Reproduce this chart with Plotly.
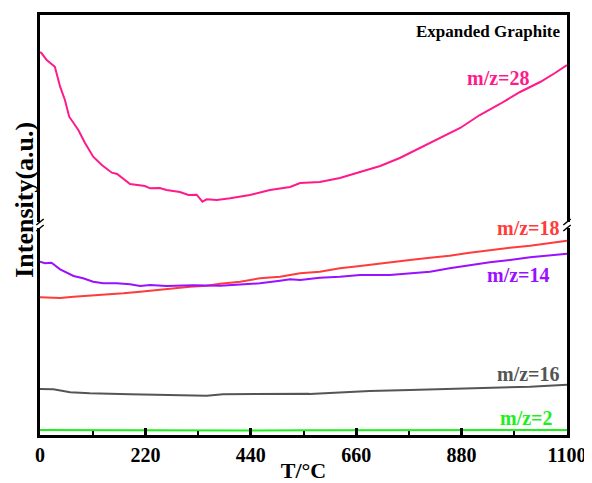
import plotly.graph_objects as go

# ---- data (T in °C, intensity in arbitrary units) ----
T28 = [0, 3.5, 14, 31, 42, 52, 61, 80, 94, 111, 129, 150, 161, 188, 219, 230, 250, 264, 292, 310, 327, 339, 348, 369, 397,
       438, 480, 522, 543, 584, 626, 668, 710, 751, 793, 835, 877, 918, 960, 1002, 1044, 1075, 1100]
I28 = [383, 381.7, 375, 368.3, 348.3, 335, 318.3, 305, 292, 278.3, 270, 262.3, 261, 251, 249, 246.7, 247, 245, 243, 240, 240.3, 233.3, 235.7, 235, 236.7,
       240, 245, 248, 252, 253, 257, 263, 269, 277, 287, 297, 307, 320, 331, 343, 353, 362, 370]

T18 = [0, 42, 70, 104, 139, 174, 209, 244, 278, 313, 348, 376, 418, 459, 501, 543, 584, 626, 668, 710, 730, 772, 814, 855, 897, 939, 981, 1023, 1100]
I18 = [137.7, 137, 138.3, 139.3, 141, 141.7, 143.3, 145, 146.7, 148.3, 149.3, 151.3, 153.3, 156.7, 158.3, 161.7, 163.3, 166.7, 169, 171.7, 172.7, 175, 177.3, 179.3, 182.3, 185, 187.3, 189.3, 194.3]

T14 = [0, 10.4, 24, 42, 70, 90, 111, 132, 160, 188, 209, 230, 264, 292, 320, 376, 418, 459, 501, 522, 543, 584, 626, 668, 730, 772, 814, 855, 897, 939, 981, 1023, 1100]
I14 = [173.3, 171.7, 172.3, 165.7, 159, 156.7, 153.3, 151.7, 151.7, 150.7, 149, 150, 149, 149.3, 149.7, 149.3, 150.7, 151.7, 154.3, 155.7, 155, 157.3, 158.3, 160, 160, 161.7, 163.3, 166.7, 170, 172.7, 175, 177.7, 181.3]

T16 = [0, 28, 63, 104, 188, 243, 299, 348, 382, 424, 473, 560, 563, 626, 688, 772, 855, 939, 1023, 1100]
I16 = [46, 45.7, 42.7, 41.7, 40.7, 40.3, 40, 39.3, 40.7, 41, 41.3, 41.3, 41, 42.7, 44, 45, 46.3, 47.3, 48.3, 50.3]

T2 = [0, 110, 220, 330, 440, 550, 660, 770, 880, 990, 1100]
I2 = [5, 4.8, 4.6, 4.8, 4.6, 4.8, 4.7, 4.8, 4.6, 4.8, 5]

series = [
    ("m/z=28", T28, I28, "#FF1A8C"),
    ("m/z=18", T18, I18, "#FF3B3B"),
    ("m/z=14", T14, I14, "#9A10FF"),
    ("m/z=16", T16, I16, "#555555"),
    ("m/z=2", T2, I2, "#1EF01E"),
]

# label positions (right end x, y) in data units
label_pos = {
    "m/z=28": (1026, 357),
    "m/z=18": (1089, 207),
    "m/z=14": (1068, 160),
    "m/z=16": (1089, 61),
    "m/z=2": (1075, 17),
}

x_ticks = [0, 220, 440, 660, 880, 1100]
y_break = 210

FONT = "Liberation Serif, Times New Roman, serif"

fig = go.Figure()
for name, xs, ys, col in series:
    fig.add_trace(go.Scatter(x=xs, y=ys, mode="lines", name=name,
                             line=dict(color=col, width=2), showlegend=False))
    lx, ly = label_pos[name]
    fig.add_annotation(x=lx, y=ly, text="<b>%s</b>" % name, showarrow=False,
                       xanchor="right", yanchor="middle",
                       font=dict(family=FONT, size=20, color=col))

fig.add_annotation(x=1091, y=404, text="<b>Expanded Graphite</b>", showarrow=False,
                   xanchor="right", yanchor="middle",
                   font=dict(family=FONT, size=17, color="black"))

# y-axis title (placed as rotated text, slightly above plot centre as in the reference)
fig.add_annotation(xref="paper", yref="paper", x=0, y=0.56, xshift=-15,
                   text="<b>Intensity(a.u.)</b>", textangle=-90, showarrow=False,
                   xanchor="center", yanchor="middle",
                   font=dict(family=FONT, size=26, color="black"))

# axis break marks on left and right spines
for px in (0, 1):
    fig.add_shape(type="rect", xref="paper", yref="y", x0=px - 0.006, x1=px + 0.006,
                  y0=y_break - 3, y1=y_break + 3, fillcolor="white", line=dict(width=0), layer="above")
    for dy in (-3, 3):
        fig.add_shape(type="line", xref="paper", yref="y", x0=px - 0.007, x1=px + 0.007,
                      y0=y_break + dy - 3, y1=y_break + dy + 3,
                      line=dict(color="black", width=1.5), layer="above")

# page body has an 8px margin, so the figure is sized/offset to compensate
fig.update_layout(
    width=584, height=475,
    margin=dict(l=32, r=25, t=7, b=48, autoexpand=False),
    plot_bgcolor="white", paper_bgcolor="white",
    font=dict(family=FONT, color="black"),
)
fig.update_xaxes(
    range=[0, 1100], tickvals=x_ticks, ticktext=["<b>%d</b>" % v for v in x_ticks],
    ticks="inside", ticklen=7, tickwidth=2.5, tickcolor="black",
    minor=dict(dtick=110, ticks="inside", ticklen=4, tickwidth=2, tickcolor="black"),
    showline=True, linewidth=3, linecolor="black", mirror=True,
    showgrid=False, zeroline=False, automargin=False,
    tickfont=dict(family=FONT, size=20, color="black"),
    title=dict(text="<b>T/°C</b>", font=dict(family=FONT, size=22, color="black"), standoff=7),
)
fig.update_yaxes(
    range=[0, 420], showticklabels=False, ticks="",
    showline=True, linewidth=3, linecolor="black", mirror=True,
    showgrid=False, zeroline=False, automargin=False,
)

fig.write_html("out.html")
